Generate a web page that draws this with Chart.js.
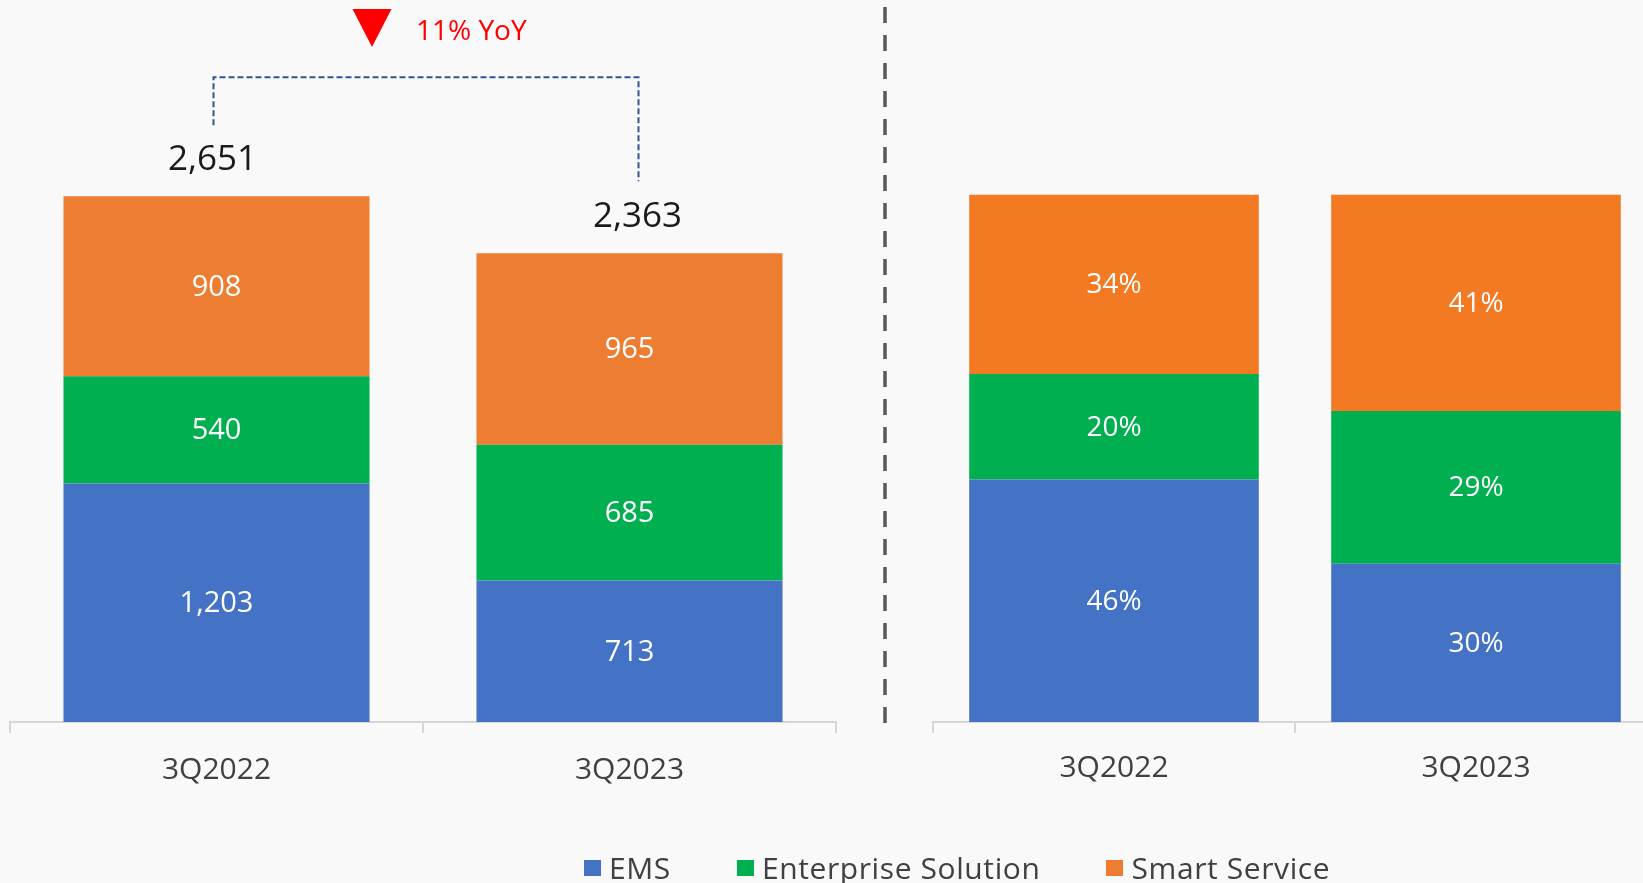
<!DOCTYPE html>
<html><head><meta charset="utf-8">
<script src="https://cdn.jsdelivr.net/npm/chart.js@4.4.0/dist/chart.umd.min.js"></script>
<style>
html,body{margin:0;padding:0;background:#F9F9F9;width:1643px;height:883px;overflow:hidden;font-family:'Open Sans',sans-serif;}
#w1{position:absolute;left:0;top:0;width:890px;height:883px;}
#w2{position:absolute;left:880px;top:0;width:790px;height:883px;}
#legend{position:absolute;left:584px;top:850px;display:flex;align-items:center;font-size:30px;letter-spacing:0.6px;line-height:36px;color:#404040;white-space:nowrap;}
#legend .it{display:flex;align-items:center;margin-right:66px;}
#legend .sw{width:17px;height:16px;margin-right:8px;display:inline-block;}
</style></head>
<body>
<div id="w1"><canvas id="c1"></canvas></div>
<div id="w2"><canvas id="c2"></canvas></div>
<div id="legend"></div>
<script>
const categories = ['3Q2022', '3Q2023'];
const seriesNames = ['EMS', 'Enterprise Solution', 'Smart Service'];
const emsValues = [1203, 713];
const enterpriseValues = [540, 685];
const smartValues = [908, 965];
const emsShare = [46, 30];
const enterpriseShare = [20, 29];
const smartShare = [34, 41];
const yoyText = '11% YoY';

const colBlue = '#4472C4', colGreen = '#00B050', colOrange = '#ED7D31', colOrange2 = '#F37A23';
const FONT = "'Open Sans', sans-serif";

const segLabels = {
  id: 'segLabels',
  afterDatasetsDraw(chart, args, opts) {
    const ctx = chart.ctx;
    ctx.save();
    ctx.fillStyle = '#FFFFFF';
    ctx.font = opts.font;
    ctx.textAlign = 'center';
    ctx.textBaseline = 'middle';
    chart.data.datasets.forEach((ds, i) => {
      chart.getDatasetMeta(i).data.forEach((bar, j) => {
        const p = bar.getProps(['x', 'y', 'base'], true);
        ctx.fillText(opts.format(ds.data[j]), p.x, (p.y + p.base) / 2 + 1);
      });
    });
    ctx.restore();
  }
};

const extras = {
  id: 'extras',
  afterDraw(chart) {
    const ctx = chart.ctx;
    const ys = chart.scales.y;
    const topMeta = chart.getDatasetMeta(chart.data.datasets.length - 1);
    const totals = categories.map((c, j) => chart.data.datasets.reduce((s, d) => s + d.data[j], 0));
    const xs = topMeta.data.map(b => b.x);
    const yt = totals.map(t => ys.getPixelForValue(t));
    ctx.save();
    // totals
    ctx.fillStyle = '#1A1A1A';
    ctx.font = '500 35px ' + FONT;
    ctx.textAlign = 'center';
    ctx.textBaseline = 'middle';
    totals.forEach((t, j) => ctx.fillText(t.toLocaleString('en-US'), xs[j] + (j === 0 ? -4 : 8), yt[j] - 36));
    // bracket
    ctx.strokeStyle = '#2F5597';
    ctx.lineWidth = 2;
    ctx.setLineDash([6, 3]);
    const lx = xs[0] - 3, rx = xs[1] + 9, ty = yt[0] - 119;
    ctx.beginPath();
    ctx.moveTo(lx, yt[0] - 71);
    ctx.lineTo(lx, ty);
    ctx.lineTo(rx, ty);
    ctx.lineTo(rx, yt[1] - 72);
    ctx.stroke();
    ctx.setLineDash([]);
    // triangle and YoY
    const mid = (xs[0] + xs[1]) / 2;
    ctx.fillStyle = '#FF0000';
    ctx.beginPath();
    ctx.moveTo(mid - 70.5, 9);
    ctx.lineTo(mid - 31.5, 9);
    ctx.lineTo(mid - 51, 47);
    ctx.closePath();
    ctx.fill();
    ctx.font = '28px ' + FONT;
    ctx.textAlign = 'left';
    ctx.fillText(yoyText, mid - 7, 32);
    // divider
    ctx.strokeStyle = '#595959';
    ctx.lineWidth = 3.5;
    ctx.setLineDash([16, 12]);
    ctx.beginPath();
    ctx.moveTo(885, 7);
    ctx.lineTo(885, 723);
    ctx.stroke();
    ctx.restore();
  }
};

function xScale(pad) {
  return {
    stacked: true,
    offset: true,
    grid: { offset: true, drawOnChartArea: false, drawTicks: true, tickLength: 11, color: '#D6D6D6', lineWidth: 2 },
    border: { display: true, color: '#D6D6D6', width: 2 },
    ticks: { color: '#404040', font: { family: FONT, size: 30 }, padding: pad }
  };
}

new Chart(document.getElementById('c1'), {
  type: 'bar',
  data: {
    labels: categories,
    datasets: [
      { label: seriesNames[0], data: emsValues, backgroundColor: colBlue },
      { label: seriesNames[1], data: enterpriseValues, backgroundColor: colGreen },
      { label: seriesNames[2], data: smartValues, backgroundColor: colOrange }
    ]
  },
  options: {
    responsive: true, maintainAspectRatio: false, animation: false,
    layout: { padding: { left: 10, right: 54, top: 127, bottom: 76 } },
    datasets: { bar: { barPercentage: 0.741, categoryPercentage: 1, borderWidth: 0 } },
    scales: {
      x: xScale(19),
      y: { stacked: true, display: false, min: 0, max: 3000 }
    },
    plugins: {
      legend: { display: false }, tooltip: { enabled: false },
      segLabels: { font: '29px ' + FONT, format: v => v.toLocaleString('en-US') }
    }
  },
  plugins: [segLabels, extras]
});

new Chart(document.getElementById('c2'), {
  type: 'bar',
  data: {
    labels: categories,
    datasets: [
      { label: seriesNames[0], data: emsShare, backgroundColor: colBlue },
      { label: seriesNames[1], data: enterpriseShare, backgroundColor: colGreen },
      { label: seriesNames[2], data: smartShare, backgroundColor: colOrange2 }
    ]
  },
  options: {
    responsive: true, maintainAspectRatio: false, animation: false,
    layout: { padding: { left: 53, right: 13, top: 142, bottom: 80 } },
    datasets: { bar: { barPercentage: 0.8, categoryPercentage: 1, borderWidth: 0 } },
    scales: {
      x: xScale(17),
      y: { stacked: true, display: false, min: 0, max: 110 }
    },
    plugins: {
      legend: { display: false }, tooltip: { enabled: false },
      segLabels: { font: '28px ' + FONT, format: v => v + '%' }
    }
  },
  plugins: [segLabels]
});

const legendColors = [colBlue, colGreen, colOrange];
const lg = document.getElementById('legend');
seriesNames.forEach((n, i) => {
  const it = document.createElement('span');
  it.className = 'it';
  const sw = document.createElement('span');
  sw.className = 'sw';
  sw.style.background = legendColors[i];
  it.appendChild(sw);
  it.appendChild(document.createTextNode(n));
  lg.appendChild(it);
});
</script>
</body></html>
